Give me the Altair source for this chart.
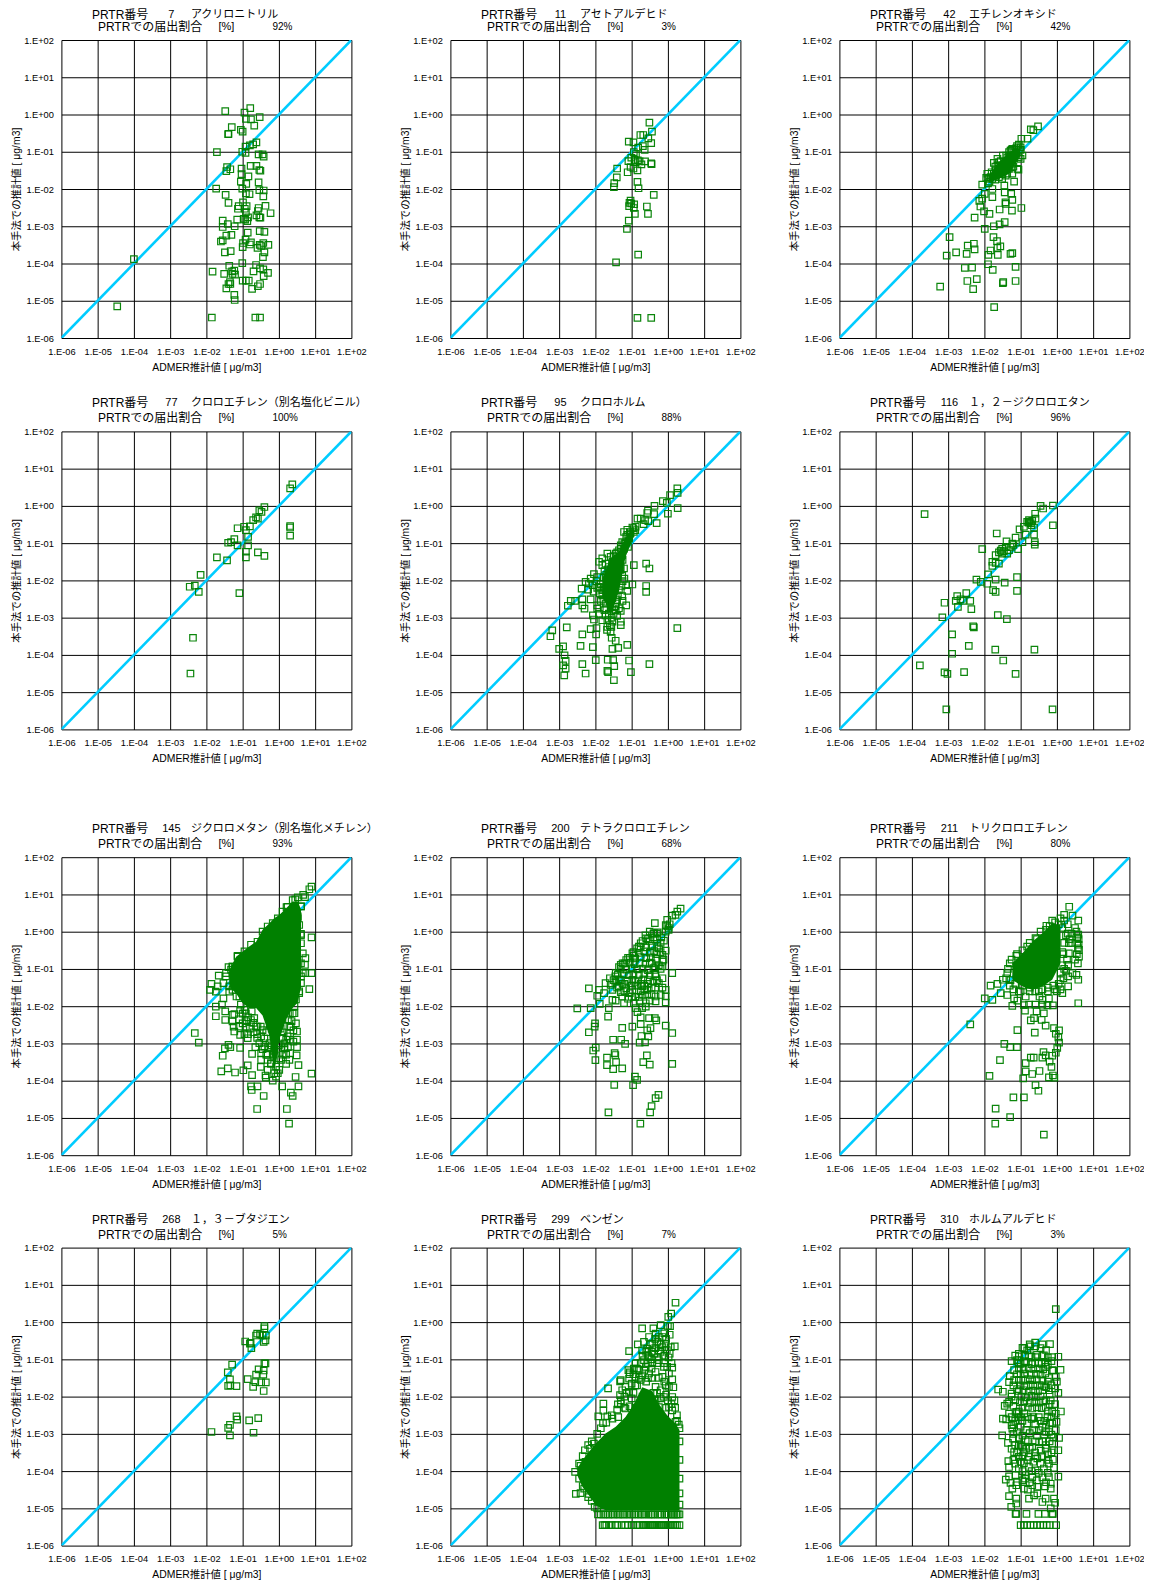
import altair as alt
import pandas as pd

NUMBERS = ["7", "11", "42", "77", "95", "116", "145", "200", "211", "268", "299", "310"]
NAMES = ["アクリロニトリル", "アセトアルデヒド", "エチレンオキシド", "クロロエチレン（別名塩化ビニル）",
         "クロロホルム", "１，２－ジクロロエタン", "ジクロロメタン（別名塩化メチレン）", "テトラクロロエチレン",
         "トリクロロエチレン", "１，３－ブタジエン", "ベンゼン", "ホルムアルデヒド"]
PERCENTS = ["92%", "3%", "42%", "100%", "88%", "96%", "93%", "68%", "80%", "5%", "7%", "3%"]
TICKS = [1e-6, 1e-5, 1e-4, 1e-3, 1e-2, 1e-1, 1e0, 1e1, 1e2]
DIAGONAL = [1e-6, 1e2]

# all points are (log10 ADMER, log10 this-method)
P7 = [(-1.48,.09),(-.95,.05),(-.79,.17),(-.91,-.12),(-.77,-.13),(-.53,-.07),(-.68,-.3),(-1.3,-.34),(-1.39,-.52),(-1.4,-.53),(-1.05,-.41),(-1,-.46),(-.62,-.75),(-.71,-.8),(-.8,-.83),(-.92,-.86),(-1.71,-1.01),(-1.01,-1),(-.92,-1.03),(-.56,-1.07),(-.45,-1.07),(-.42,-1.13),(-.62,-1.38),(-.78,-1.38),(-1.03,-1.45),(-1.43,-1.41),(-1.34,-1.47),(-1.45,-1.52),(-.54,-1.49),(-.51,-1.51),(-1.03,-1.6),(-.84,-1.66),(-1.05,-1.8),(-.9,-1.86),(-.56,-1.82),(-1.73,-1.99),(-1.01,-1.99),(-.54,-2.03),(-.42,-2.04),(-1.47,-2.16),(-.91,-2.12),(-.81,-2.14),(-.43,-2.2),(-1.39,-2.37),(-.99,-2.36),(-1.11,-2.46),(-1.13,-2.53),(-.89,-2.46),(-.94,-2.53),(-.91,-2.62),(-.37,-2.45),(-.56,-2.51),(-.58,-2.59),(-.23,-2.65),(-1.15,-2.82),(-.97,-2.8),(-.85,-2.76),(-.93,-2.82),(-.87,-2.86),(-.62,-2.71),(-.54,-2.76),(-.51,-2.77),(-1.55,-2.85),(-1.41,-2.94),(-1.55,-3.02),(-1.22,-3),(-.86,-3.17),(-.53,-3.13),(-.4,-3.15),(-1.31,-3.23),(-1.45,-3.25),(-1.55,-3.38),(-1.6,-3.41),(-.92,-3.36),(-.99,-3.45),(-.77,-3.43),(-.8,-3.49),(-1,-3.56),(-.43,-3.45),(-.29,-3.5),(-.53,-3.5),(-.59,-3.58),(-.49,-3.53),(-1.49,-3.7),(-1.33,-3.67),(-.4,-3.7),(-.44,-3.83),(-1.01,-3.99),(-1.37,-4.06),(-.63,-4.04),(-.52,-4.13),(-.43,-4.16),(-.3,-4.25),(-.7,-4.21),(-.42,-4.34),(-1.83,-4.22),(-1.51,-4.28),(-1.29,-4.21),(-1.23,-4.19),(-1.28,-4.28),(-1.21,-4.3),(-1,-4.46),(-.91,-4.46),(-.83,-4.46),(-1.35,-4.5),(-1.39,-4.55),(-1.34,-4.55),(-1.45,-4.67),(-.52,-4.55),(-.58,-4.61),(-.74,-4.68),(-1.23,-4.84),(-1.22,-4.98),(-4.46,-5.15),(-4,-3.88),(-1.85,-5.45),(-.65,-5.45),(-.52,-5.45)]
P11 = [(-.51,-.22),(-.44,-.46),(-.76,-.55),(-.68,-.55),(-.54,-.64),(-1.08,-.73),(-.95,-.75),(-.46,-.77),(-.69,-.85),(-.82,-.89),(-.64,-.95),(-.94,-1.01),(-.88,-1.06),(-1.01,-1.16),(-1.09,-1.25),(-.92,-1.22),(-.83,-1.23),(-.78,-1.26),(-.63,-1.26),(-.89,-1.28),(-.73,-1.34),(-.46,-1.31),(-.45,-1.33),(-1.03,-1.41),(-.95,-1.45),(-.84,-1.5),(-1.4,-1.45),(-1.11,-1.55),(-1.41,-1.69),(-1.48,-1.84),(-1.49,-1.95),(-.84,-1.81),(-.81,-1.98),(-.39,-2.16),(-1.03,-2.31),(-1.06,-2.37),(-1.01,-2.39),(-.93,-2.41),(-1.07,-2.46),(-.94,-2.51),(-.58,-2.47),(-.55,-2.67),(-.91,-2.67),(-1.08,-2.85),(-1.13,-3.07),(-.82,-3.76),(-1.43,-3.97),(-.84,-5.46),(-.46,-5.46)]
P42 = [(-.52,-.32),(-.72,-.4),(-.65,-.42),(-.98,-.65),(-.81,-.65),(-1.92,-1.59),(-1.83,-1.68),(-1.86,-1.8),(-1.74,-1.3),(-1.64,-1.19),(-1.69,-1.5),(-1.6,-1.46),(-1.55,-1.55),(-1.49,-1.1),(-1.41,-1.28),(-1.32,-1.01),(-1.28,-1.1),(-1.23,-.92),(-1.18,-1.01),(-1.12,-.9),(-1.05,-.94),(-1,-.88),(-.95,-1.1),(-1,-1.19),(-1.23,-1.19),(-1.41,-1.37),(-1.32,-1.46),(-1.51,-1.73),(-1.41,-1.64),(-1.23,-1.59),(-1.09,-1.46),(-1.78,-1.73),(-1.69,-1.64),(-1.6,-1.68),(-1.51,-1.37),(-1.6,-1.28),(-1.37,-1.15),(-1.14,-1.1),(-1.3,-1.23),(-1.46,-1.5),(-1.64,-1.37),(-1.74,-1.59),(-1.89,-1.73),(-1.23,-1.32),(-1.05,-.81),(-1.12,-1.03),(-1.18,-1.15),(-1.28,-.97),(-1.37,-1.59),(-2.06,-1.88),(-1.78,-2),(-1.99,-2.13),(-2.06,-2.26),(-2.14,-2.32),(-2.11,-2.47),(-2.01,-2.6),(-1.86,-2.67),(-1.78,-2.22),(-1.45,-1.91),(-1.44,-2.09),(-1.26,-2.13),(-1.23,-2.29),(-1.41,-2.4),(-1.42,-2.36),(-1.58,-2.55),(-1.24,-2.58),(-.98,-2.51),(-1.18,-1.8),(-1.06,-1.48),(-2.27,-2.77),(-1.99,-3.07),(-1.74,-3),(-1.58,-2.95),(-1.44,-2.89),(-2.96,-3.29),(-2.29,-3.47),(-2.46,-3.52),(-2.27,-3.62),(-2.49,-3.74),(-2.78,-3.7),(-3.04,-3.79),(-1.75,-3.29),(-1.65,-3.4),(-1.56,-3.54),(-1.64,-3.58),(-1.83,-3.65),(-1.89,-3.77),(-1.63,-3.77),(-1.28,-3.74),(-1.23,-3.72),(-1.9,-4.02),(-2.54,-4.12),(-2.34,-4.11),(-1.77,-4.17),(-1.14,-4.09),(-2.47,-4.47),(-2.21,-4.42),(-2.31,-4.69),(-3.22,-4.62),(-1.48,-4.5),(-1.49,-4.53),(-1.14,-4.47),(-1.73,-5.17),(-1.95,-1.7),(-1.8,-1.55),(-1.7,-1.4),(-1.55,-1.25),(-1.4,-1.1),(-1.25,-.95),(-1.1,-.85),(-1,-.95),(-1.05,-1.15),(-1.2,-1.4),(-1.35,-1.45),(-1.5,-1.6),(-1.7,-1.75),(-1.9,-1.85)]
P77 = [(.37,.58),(.31,.47),(-.4,-.03),(-.54,-.12),(-.48,-.16),(-.71,-.38),(-.63,-.31),(-.58,-.34),(-.8,-.55),(-.96,-.56),(-1.14,-.6),(-.91,-.65),(.31,-.54),(.31,-.58),(.31,-.8),(-.85,-.83),(-1.23,-.89),(-1.4,-.99),(-1.32,-.97),(-1.14,-1.06),(-.85,-1.06),(-.91,-1.23),(-.58,-1.25),(-.4,-1.34),(-.91,-1.38),(-1.71,-1.38),(-1.43,-1.46),(-2.16,-1.85),(-2.32,-2.14),(-2.46,-2.17),(-2.21,-2.31),(-1.09,-2.34),(-2.37,-3.54),(-2.44,-4.5)]
P95 = [(.26,.47),(.27,.35),(.06,.29),(-.14,.13),(-.03,.08),(.27,-.06),(0,-.21),(-.37,0),(-.55,-.13),(-.57,-.19),(-.38,-.22),(-.84,-.34),(-.75,-.34),(-.63,-.38),(-.31,-.46),(-.54,-.41),(-.67,-.49),(-.89,-.56),(-.98,-.58),(-1.21,-.7),(-1.12,-.64),(-.94,-.7),(-1.03,-.74),(-1.15,-.83),(-1.07,-.88),(-1.26,-.97),(-1.17,-1.01),(-1.3,-1.06),(-1.21,-1.15),(-1.35,-1.19),(-1.26,-1.32),(-1.44,-1.28),(-1.67,-1.28),(-1.58,-1.37),(-1.81,-1.41),(-1.9,-1.5),(-1.72,-1.55),(-1.53,-1.5),(-1.35,-1.46),(-1.81,-1.59),(-1.63,-1.64),(-1.44,-1.59),(-1.21,-1.68),(-.94,-1.59),(-.6,-1.55),(-.51,-1.68),(-2.04,-1.83),(-1.95,-1.91),(-2.27,-2.04),(-2.13,-1.95),(-2.18,-2.09),(-2.38,-2.22),(-2.2,-2.25),(-2.07,-2.13),(-1.9,-2.17),(-1.72,-1.91),(-1.53,-1.86),(-1.26,-1.88),(-1.44,-2),(-1.63,-2.09),(-1.81,-2.26),(-1.63,-2.26),(-1.49,-2.17),(-1.35,-2.26),(-1.15,-2.13),(-.98,-2.11),(-.6,-2.15),(-.6,-2.31),(-1.12,-2.28),(-1.26,-2.42),(-1.67,-2.44),(-1.81,-2.4),(-1.53,-2.48),(-1.4,-2.53),(-2.13,-2.51),(-2.36,-2.51),(-2.68,-2.55),(-2.56,-2.55),(-2.76,-2.68),(-2.36,-2.67),(-2.3,-2.76),(-1.95,-2.67),(-1.95,-2.76),(-1.72,-2.62),(-1.58,-2.71),(-1.44,-2.62),(-1.3,-2.82),(-1.15,-2.67),(-2.07,-2.94),(-2.04,-3.05),(-1.81,-3.07),(-1.72,-2.94),(-1.63,-2.89),(-1.44,-2.8),(-1.67,-3.07),(-1.53,-3.11),(-1.3,-3.11),(-1.3,-3.2),(-2.13,-3.31),(-1.97,-3.28),(-1.98,-3.45),(-1.67,-3.25),(-1.58,-3.38),(-1.55,-3.54),(-1.44,-3.62),(-1.53,-3.84),(-1.37,-3.81),(-1.12,-3.73),(-2.79,-3.26),(-3.19,-3.34),(-3.24,-3.5),(-2.36,-3.45),(-2.41,-3.76),(-2.07,-3.79),(-2.89,-3.77),(-3,-3.84),(-2.85,-4.01),(-2.82,-4.16),(-2.89,-4.28),(-2.82,-4.37),(-2.86,-4.55),(-2.36,-4.25),(-2.27,-4.5),(-1.99,-4.14),(-1.66,-4.13),(-1.51,-4.14),(-1.07,-4.15),(-1.67,-4.43),(-1.65,-4.46),(-1.48,-4.3),(-1.02,-4.46),(-.51,-4.25),(-1.49,-4.68),(.26,-3.28),(-1.6,-3.2),(-1.75,-2.8),(-1.9,-2.9),(-1.85,-2.55),(-1.68,-3.33),(-1.56,-3.25),(-1.5,-2.9),(-1.4,-2.95),(-1.35,-2.75),(-1.25,-2.55),(-2.05,-2.3),(-1.97,-2.02),(-1.2,-1.95),(-1.32,-1.72),(-1.25,-2.02),(-1.95,-2.2),(-1.85,-2.1),(-1.75,-1.75),(-1.65,-1.7),(-1.5,-1.35),(-1.4,-1.25),(-1.3,-1.15),(-1.2,-1),(-1.12,-.78),(-1.05,-.7),(-.95,-.6),(-.9,-.65),(-1.1,-1.1),(-1.25,-1.45),(-1.3,-1.65),(-1.28,-2.15),(-1.38,-2.4),(-1.45,-2.7),(-1.55,-3),(-1.7,-2.75),(-1.78,-2.5),(-1.88,-2.35),(-1.7,-1.85),(-1.75,-2.2)]
P116 = [(-3.65,-.22),(-.11,.01),(-.45,0),(-.38,-.07),(-.6,-.21),(-.59,-.34),(-.11,-.52),(-.77,-.38),(-.82,-.43),(-.72,-.47),(-.91,-.56),(-1.03,-.63),(-.63,-.58),(-.63,-.77),(-.86,-.77),(-1.66,-.74),(-1.14,-.85),(-1.39,-.95),(-.95,-.97),(-.61,-.97),(-.61,-1.04),(-1.23,-1.01),(-1.07,-1.16),(-2.06,-1.16),(-1.51,-1.15),(-1.41,-1.1),(-1.6,-1.25),(-1.51,-1.28),(-1.37,-1.28),(-1.69,-1.32),(-1.32,-1.19),(-1.6,-1.55),(-1.78,-1.5),(-1.69,-1.53),(-1.78,-1.61),(-1.9,-1.84),(-2.22,-1.98),(-2.1,-2.04),(-1.92,-2.09),(-1.69,-1.98),(-1.44,-2.06),(-1.1,-1.91),(-1.1,-2.28),(-1.76,-2.26),(-1.69,-2.31),(-2.5,-2.34),(-2.75,-2.42),(-2.79,-2.55),(-2.66,-2.51),(-2.59,-2.55),(-2.39,-2.55),(-3.1,-2.6),(-2.73,-2.71),(-2.36,-2.77),(-3.16,-2.99),(-1.63,-2.93),(-1.38,-3.04),(-2.31,-3.23),(-2.29,-3.26),(-2.89,-3.45),(-2.43,-3.76),(-2.89,-3.97),(-1.7,-3.86),(-.62,-3.86),(-1.48,-4.15),(-3.78,-4.28),(-3.1,-4.47),(-3.02,-4.51),(-2.56,-4.46),(-1.14,-4.51),(-3.05,-5.46),(-.12,-5.46),(-1.55,-1.2),(-1.46,-1.22),(-1.28,-1.1),(-1.2,-1.05),(-.78,-.45),(-.75,-.42),(-.7,-.52),(-.68,-.4)]
P145 = [(.9,1.21),(.84,1.14),(.67,.99),(.72,.93),(.61,.68),(.45,.87),(.21,.66),(.52,.36),(.61,-.06),(.9,-.15),(.73,-.71),(.72,-.89),(.73,-1.11),(.9,-1.11),(.84,-1.54),(.61,-1.2),(.56,-1.65),(-1.14,-.65),(-1.39,-.95),(-1.66,-1.18),(-1.86,-1.4),(-1.9,-1.56),(-1.74,-1.61),(-1.69,-1.47),(-1.46,-1.11),(-1.28,-.94),(-1.37,-1.47),(-1.28,-1.56),(-1.53,-1.79),(-1.74,-2.01),(-1.57,-1.96),(-1.74,-2.27),(-1.48,-2.14),(-1.48,-2.37),(-1.28,-2.23),(-1.23,-2.21),(-1.28,-2.41),(-1.25,-2.55),(-1.23,-2.68),(-1.07,-2.1),(-.95,-2.1),(-1.09,-1.74),(-1.07,-2.77),(-1,-2.46),(-.91,-2.55),(-.86,-2.86),(-.75,-2.14),(-.68,-2.32),(-.59,-2.55),(-.45,-2.64),(-.54,-2.99),(-.4,-2.86),(-.26,-2.99),(.1,-2.37),(.29,-2.55),(.47,-2.46),(.43,-2.19),(.5,-2.68),(.5,-2.9),(.5,-3.1),(.31,-3.26),(.49,-3.32),(.31,-2.72),(.2,-2.9),(.06,-3.17),(-.13,-3.2),(-.22,-3.55),(-2.32,-2.72),(-2.21,-2.98),(-1.49,-3.13),(-1.39,-3.04),(-1.34,-3.1),(-1.07,-3.12),(-1.55,-3.33),(-.74,-3.28),(-.49,-3.26),(-.49,-3.44),(-.31,-3.44),(-.5,-3.63),(-.86,-3.59),(-1.41,-3.67),(-1.59,-3.75),(-1.21,-3.78),(-.98,-3.72),(-.74,-3.85),(-.37,-3.86),(-.36,-3.92),(-.17,-4),(-.08,-3.89),(.01,-3.71),(.29,-3.44),(.54,-3.58),(.46,-3.9),(.9,-3.81),(.09,-4.15),(.54,-4.15),(-.77,-4.15),(-.75,-4.25),(-.59,-4.15),(.33,-4.32),(.38,-4.41),(-.42,-4.41),(-.6,-4.76),(.22,-4.76),(.28,-5.15),(-.31,-3.71),(-.08,-3.62),(.01,-3.4),(.2,-3.3),(.1,-2.7),(-.1,-2.9),(-.2,-2.6),(.3,-2.2),(-.3,-3.1),(.15,-3.1),(-.7,-2.7),(-.6,-2.85),(-.85,-2.3),(-.95,-2.75),(-1.28,-.94),(-1.14,-.67),(-.95,-.53),(-.77,-.35),(-.59,-.27),(-.45,0),(-.31,.14),(-.17,.23),(-.03,.36),(.1,.54),(.24,.67),(.38,.85),(.52,.92),(.61,.68),(.52,.41),(.56,.18),(.61,-.09),(.61,-.31),(.66,-.58),(.61,-.85),(.66,-1.11),(.61,-1.38),(.56,-1.6),(.47,-1.82),(.43,-2),(.38,-2.19),(-1.32,-1.02),(-1.46,-1.2),(-1.53,-1.38),(-1.37,-1.61),(-1.17,-1.74),(-1.05,-1.96),(-.91,-2.19),(-.77,-2.37),(-.63,-2.55),(-.49,-2.81),(-.4,-3.08),(-.31,-3.31),(-.22,-3.53),(-.13,-3.8),(-.03,-3.8),(.06,-3.44),(.15,-3.13),(.24,-2.81),(.33,-2.55),(-1.1,-2.35),(-1,-2.2),(-.9,-2.4),(-.8,-2.6),(-.7,-2.45),(-.6,-2.75),(-.5,-2.55),(-.35,-2.7),(-.25,-2.5),(-.15,-2.8),(.05,-2.6),(.1,-2.85),(.25,-2.35),(.35,-2.4),(.4,-2.65),(.3,-2.9),(-.2,-3.05),(0,-3.05),(.15,-3),(.25,-3.1),(.4,-2.95),(-.15,-3.3),(.1,-3.3),(.2,-3.55),(-.35,-3.3),(-.45,-3.15),(-.65,-3.1),(-.85,-2.75),(-1.1,-2.55)]
P200 = [(.35,.62),(.26,.54),(.21,.45),(.12,.43),(-.02,.32),(-.06,.18),(-.06,0),(-.36,.23),(-.11,-.24),(-.38,-.04),(-.06,-.51),(-.15,-.62),(-.15,-.8),(-.15,-.93),(.12,-1.11),(-.75,-.31),(-.8,-.4),(-.98,-.58),(-1.15,-.76),(-1.3,-.89),(-1.44,-1.11),(-1.72,-1.38),(-1.9,-1.56),(-2.18,-1.52),(-1.95,-1.72),(-1.76,-1.65),(-1.58,-1.43),(-1.53,-1.56),(-1.35,-1.47),(-1.15,-1.52),(-.98,-1.56),(-.71,-1.47),(-.34,-1.2),(-.25,-1.38),(-.06,-1.56),(-.06,-1.74),(-.06,-1.9),(-.34,-1.74),(-.34,-1.87),(-.57,-1.56),(-.57,-1.69),(-.61,-1.92),(-.61,-2.01),(-.71,-2.05),(-.94,-1.92),(-.89,-2.05),(-1.21,-1.92),(-1.26,-1.74),(-1.44,-1.85),(-1.53,-1.83),(-1.63,-2.05),(-1.88,-1.94),(-2.13,-2.05),(-2.5,-2.06),(-1.65,-2.28),(-.84,-2.16),(-.75,-2.3),(-.52,-2.32),(-.36,-2.32),(-.32,-2.38),(-2.01,-2.46),(-2.02,-2.55),(-2.18,-2.7),(-1.26,-2.58),(-.98,-2.55),(-.75,-2.48),(-.48,-2.59),(-.57,-2.65),(-.06,-2.52),(.12,-2.72),(-.73,-2.8),(-.54,-2.81),(-1.51,-2.9),(-1.29,-2.9),(-1.18,-3.01),(-.78,-2.98),(-.63,-2.97),(-1.99,-3.11),(-2.06,-3.19),(-1.47,-3.26),(-1.45,-3.31),(-1.68,-3.38),(-2,-3.45),(-1.43,-3.5),(-1.68,-3.58),(-1.51,-3.69),(-1.26,-3.67),(-.58,-3.32),(-.68,-3.5),(-.5,-3.57),(.12,-3.55),(-.91,-3.89),(-.85,-3.98),(-.96,-4.12),(-1.48,-4.11),(-.26,-4.38),(-.34,-4.47),(-.45,-4.68),(-.49,-4.85),(-1.64,-4.85),(-.76,-5.15),(-.62,-.1),(-.5,0),(-.4,-.15),(-.3,-.05),(-.55,-.2),(-.2,-.3),(-.25,-.45),(-.3,-.6),(-.45,-.85),(-.35,-.95),(-.55,-1.3),(-.2,-1),(-1.6,-1.25),(-1.45,-1.35),(-1.25,-1.4),(-.85,-1.45),(-.65,-1.55),(-.45,-1.5),(-.75,-1.6),(-1.05,-1.65),(-1.3,-1.62),(-.9,-1.75),(-.7,-1.7),(-.45,-1.7),(-1.1,-1.8),(-.78,-1.85),(-1.35,-.95),(-1.25,-.85),(-1.1,-.7),(-.95,-.65),(-.85,-.45),(-.7,-.25),(-.6,-.18),(-.5,-.25),(-.4,-.05),(-.3,-.2),(-.65,-1.45),(-.55,-1.4),(-.4,-1.35),(-.3,-1.3),(-1.45,-1.2),(-1.3,-1.3),(-1.2,-1.4),(-1,-1.45),(-.9,-1.35),(-.75,-1.4),(-.25,-.9),(-.15,-1.25),(-.2,-.55),(-.12,-.75),(.02,.1),(.05,.2),(-.02,.15),(.02,.05),(-.28,-.02),(-.18,-.15),(-1.4,-1.5),(-1.2,-1.6),(-1,-1.75),(-.8,-1.75),(-.5,-1.85),(-.35,-1.5),(-.15,-1.5),(-.2,-1.7),(-.75,-.4),(-.6,-.42),(-.45,-.38),(-.3,-.41),(-.95,-.55),(-.8,-.57),(-.65,-.53),(-.5,-.56),(-.38,-.52),(-1.05,-.7),(-.9,-.72),(-.75,-.68),(-.6,-.71),(-.47,-.69),(-.33,-.73),(-1.2,-.85),(-1.05,-.83),(-.92,-.87),(-.78,-.84),(-.62,-.86),(-.5,-.83),(-1.3,-1),(-1.15,-1.02),(-1,-.98),(-.85,-1.01),(-.7,-.99),(-.55,-1.03),(-.4,-.98),(-1.38,-1.15),(-1.22,-1.13),(-1.08,-1.17),(-.95,-1.14),(-.8,-1.16),(-.65,-1.13),(-.5,-1.17),(-.35,-1.14),(-1.5,-1.3),(-1.35,-1.28),(-1.12,-1.32),(-.98,-1.29),(-.82,-1.31),(-.68,-1.28)]
P211 = [(.34,.67),(.43,.43),(.59,.3),(.2,.45),(.1,.36),(-.13,.3),(-.29,.16),(.54,0),(.59,-.08),(.56,-.31),(.61,-.49),(.61,-.67),(.58,-.85),(.54,-1.16),(.59,-1.29),(.33,-.31),(.33,-.58),(.31,-.89),(.31,-1.2),(.31,-1.47),(.15,-1.65),(.43,-1.11),(.59,-1.92),(-.59,-.17),(-.82,-.4),(-1.12,-.65),(-1.37,-1.11),(-1.49,-1.29),(-1.64,-1.4),(-1.83,-1.45),(-1.55,-1.65),(-1.37,-1.7),(-1.18,-1.79),(-1.09,-1.85),(-.86,-1.74),(-1.23,-1.99),(-.91,-1.97),(-.77,-1.96),(-.59,-1.96),(-.4,-1.96),(-.26,-1.98),(-.11,-1.98),(-1.99,-1.79),(-1.78,-1.83),(-.48,-1.74),(-.22,-1.79),(-.88,-2.12),(-.56,-2.14),(-.36,-2.19),(-.4,-1.83),(-.72,-2.38),(-.63,-2.32),(-.42,-2.37),(-.31,-2.52),(-1.09,-2.64),(-.61,-2.71),(-.08,-2.59),(.06,-2.65),(-.03,-2.74),(.04,-2.84),(.06,-2.98),(.01,-3.12),(-2.39,-2.49),(-1.45,-3.01),(-1.29,-3.1),(-1.1,-3.1),(-.72,-3.38),(-.64,-3.38),(-.4,-3.38),(-.37,-3.23),(-.31,-3.32),(-.13,-3.33),(-.03,-3.25),(-1.57,-3.45),(-.86,-3.53),(-.2,-3.49),(-.15,-3.63),(-.86,-3.75),(-.48,-3.74),(-.68,-3.82),(-.93,-3.94),(-1.86,-3.87),(-.22,-3.91),(-.11,-3.86),(-.07,-3.92),(-.59,-4.12),(-.51,-4.27),(-1.2,-4.45),(-.91,-4.45),(-1.69,-4.75),(-1.29,-4.98),(-1.7,-5.15),(-.36,-5.45),(.4,-.05),(.42,-.3),(.25,-.1),(.15,-.55),(.2,-1),(.1,-1.3),(-.05,-1.55),(-.25,-1.6),(-.5,-1.6),(-.75,-1.6),(-1.05,-1.6),(-1.3,-1.45),(-1.25,-.75),(-1.1,-.6),(-.95,-.5),(-.75,-.3),(-.55,-.2),(-.45,0),(-.3,.05),(-.2,.15),(-.05,.25),(.05,.2),(.2,.3),(.3,.2),(.15,.1),(.3,-.05),(.35,-.2),(.2,-.3),(.18,-.6),(.28,-.75),(.15,-.9),(.25,-1.05),(.1,-1.1),(.18,-1.25),(.05,-1.4),(-.1,-1.45),(-.25,-1.5),(-.4,-1.55),(-.6,-1.6),(-.75,-1.5),(-.95,-1.45),(-1.15,-1.4),(-1.28,-1.3),(-1.4,-1.25),(-1.35,-1),(-1.3,-.85),(-1.2,-1.55),(-1,-1.6),(0,-1.6),(.1,-1.55),(.55,-.6),(.58,-.45),(.6,-.2),(.56,-.15),(.6,-.35),(.5,-.75),(.5,.1)]
P268 = [(-.4,-.11),(-.4,-.17),(-.6,-.31),(-.52,-.33),(-.63,-.36),(-.45,-.36),(-.36,-.36),(-.37,-.49),(-.42,-.53),(-.93,-.52),(-.8,-.58),(-.78,-.56),(-.76,-.7),(-.4,-1.11),(-.37,-1.11),(-1.29,-1.14),(-.56,-1.27),(-1.41,-1.35),(-.42,-1.3),(-.43,-1.41),(-.63,-1.41),(-1.35,-1.54),(-.86,-1.53),(-.65,-1.61),(-.49,-1.62),(-.36,-1.62),(-1.4,-1.71),(-1.34,-1.7),(-1.17,-1.72),(-.71,-1.74),(-.42,-1.85),(-1.17,-2.53),(-1.15,-2.62),(-.57,-2.58),(-.82,-2.64),(-1.35,-2.76),(-1.4,-2.84),(-1.86,-2.95),(-.7,-2.97),(-1.35,-3.04)]
P299 = [(.21,.52),(.09,.23),(.01,.14),(.06,-.11),(-.71,-.17),(-.4,-.17),(-.2,-.08),(.05,-.34),(.19,-.65),(-.83,-.6),(-1.07,-.78),(-.66,-.53),(-.52,-.4),(-.34,-.31),(-.15,-.4),(-.06,-.58),(.08,-.67),(-.71,-.76),(-.57,-.71),(-.43,-.58),(-.29,-.53),(-.15,-.67),(-.38,-.85),(-.25,-.76),(-.52,-.94),(-.66,-1.02),(-.89,-1.11),(-1.09,-1.29),(-1.06,-1.4),(-.94,-1.25),(-.8,-1.29),(-.61,-1.2),(-.43,-1.11),(-.25,-1.02),(-.02,-1.2),(.12,-1.22),(.12,-1.54),(.03,-1.38),(-.11,-1.2),(-1.32,-1.59),(-1.3,-1.56),(-1.65,-1.78),(-1.07,-1.52),(-.89,-1.47),(-.71,-1.43),(-.52,-1.38),(-.34,-1.34),(-.15,-1.47),(.03,-1.74),(.12,-2.01),(-.06,-1.7),(-1.32,-1.96),(-1.26,-1.83),(-1.17,-1.74),(-1.07,-1.87),(-1.3,-2.19),(-1.38,-2.21),(-1.17,-2.32),(-1.06,-2.26),(-1.78,-2.19),(-1.78,-2.38),(-1.92,-2.53),(-1.67,-2.53),(-1.79,-2.71),(-1.53,-2.59),(-1.37,-2.55),(-.34,-1.74),(-.2,-1.83),(-.11,-2.01),(-.34,-2.1),(-.25,-2.28),(.21,-2.68),(.03,-2.28),(.12,-2.37),(-2.29,-3.44),(-2.15,-3.4),(-2.04,-3.26),(-2.27,-3.75),(-2.41,-3.86),(-2.56,-4.02),(-2.54,-4.61),(-2.41,-4.59),(-2.31,-4.47),(-2.18,-4.61),(-2.02,-4.96),(-1.81,-4.92),(-.9,-1.7),(-.8,-1.5),(-.6,-1.6),(-.45,-1.5),(-.3,-1.9),(-.55,-.9),(-.45,-1),(-.3,-.95),(-.2,-.6),(-.1,-.9),(.02,-.95),(-1.3,-2.1),(-1.2,-2),(-1.15,-1.9),(-1,-1.65),(-1.05,-1.35),(-.95,-1.4),(-.85,-1.25),(-.75,-1.1),(-.7,-.9),(-.6,-.8),(-.5,-.6),(-.35,-.45),(-.25,-.4),(-.1,-.3),(-.05,-.45),(0,-.1),(-.03,-.75),(.05,-.85),(.1,-1.1),(.15,-1.75),(.18,-2.1),(.2,-2.3),(.25,-2.5),(-.95,-1.9),(-.85,-1.7),(-.75,-1.55),(-.65,-1.3),(-.55,-1.1),(-.45,-.8),(-.35,-.7),(-.2,-.8),(-.1,-1.1),(-.3,-1.1),(-.45,-1.25),(-.55,-1.5),(-.25,-1.5),(-.1,-1.6),(-.4,-1.9),(-.2,-2.05),(-.05,-1.95),(0,-2.1),(-.45,-2.1),(-1,-2.05),(-1.2,-2.3),(-.9,-2.3),(-.7,-2),(-.05,-2.3),(.1,-2.2),(-1.4,-2.35),(-1.55,-2.5),(-1.7,-2.7),(-1.85,-2.85),(-1.95,-3),(-2.1,-3.2),(-2.2,-3.3),(-2.35,-3.6),(-2.45,-3.8),(-2.45,-4.2),(-2.35,-4.4),(-2.2,-4.7),(-2.1,-4.8),(-1.95,-5),(-2.3,-3.9),(.32,-2.85),(.32,-3.2),(.32,-3.7),(.32,-4.2),(.32,-4.6),(.32,-4.9),(.25,-2.65),(.3,-2.75)]
ROW_299_A = [-1.8,-1.75,-1.7,-1.62,-1.55,-1.45,-1.4,-1.28,-1.18,-1.1,-1,-.95,-.85,-.78,-.7,-.65,-.6,-.55,-.5,-.45,-.4,-.35,-.3,-.25,-.2,-.15,-.1,-.05,0,.05,.1,.15,.2,.25,.32]
ROW_299_B = [-1.93,-1.85,-1.78,-1.72,-1.65,-1.6,-1.52,-1.47,-1.38,-1.33,-1.25,-1.2,-1.12,-1.05,-.98,-.9,-.82,-.75,-.68,-.62,-.53,-.47,-.42,-.37,-.28,-.22,-.17,-.08,-.03,.02,.08,.13,.18,.23,.27,.32]
P310 = [(-.03,.35),(-.95,-.69),(-.74,-.65),(-.6,-.65),(-.4,-.6),(-.19,-.59),(-.82,-.76),(.04,-.93),(-.13,-.94),(-.36,-.89),(-.59,-.94),(-.77,-.89),(-1.1,-1.02),(-.9,-1.05),(-.5,-1.1),(-.25,-1.15),(-1.06,-1.11),(-1.18,-1.29),(-1.18,-1.56),(-1.32,-1.61),(-1.62,-1.81),(-1.49,-1.87),(-1.32,-2.14),(-1.25,-1.92),(-.03,-1.47),(-.05,-1.78),(.04,-1.9),(.1,-1.28),(-.13,-1.29),(-.22,-1.83),(-.17,-2.1),(-1.44,-2.25),(-1.37,-2.19),(-1.32,-2.46),(-1.12,-2.41),(-.31,-2.28),(-.13,-2.41),(.11,-2.4),(-.03,-2.46),(-.26,-2.54),(-1.49,-2.59),(-1.4,-2.61),(-1.25,-2.77),(-1.23,-2.86),(-1,-2.81),(-.82,-2.72),(-.63,-2.9),(-.4,-2.81),(-.22,-2.95),(-.01,-2.68),(-.13,-2.72),(-.03,-2.9),(-1.51,-3.04),(-1.35,-3.24),(-1.21,-3.13),(-1.05,-3.31),(-.86,-3.17),(-.68,-3.35),(-.49,-3.22),(-.31,-3.4),(-.13,-3.26),(.06,-3.11),(.04,-3.44),(-.08,-3.44),(-.91,-3.49),(-1.34,-3.73),(-1.32,-3.89),(-1.05,-3.93),(-.91,-3.79),(-.77,-3.89),(-.59,-3.98),(-.36,-3.93),(-.22,-3.8),(-.08,-3.91),(-.11,-3.69),(-.54,-3.66),(-.77,-3.62),(-1.18,-3.49),(-1.05,-3.62),(-1.41,-4.23),(-1.28,-4.32),(-1.12,-4.38),(-1.23,-4.47),(-.91,-4.47),(-.88,-4.2),(-.68,-4.38),(-.54,-4.42),(-.4,-4.17),(-.33,-4.41),(-.17,-4.34),(-.17,-4.47),(.04,-4.15),(-1.32,-4.14),(-1.14,-4.11),(-.86,-4.11),(-.68,-4.16),(-.22,-4.16),(-1.26,-4.96),(-1.12,-4.74),(-1.12,-4.87),(-1.32,-4.67),(-.77,-4.74),(-.63,-4.65),(-.54,-4.6),(-.4,-4.83),(-.31,-4.74),(-.08,-4.74),(-.05,-4.85),(-.17,-5),(-1.12,-5.15),(-1.14,-5.15),(-.84,-5.15),(-.51,-5.15),(-.33,-5.15),(-.13,-5.15),(-.11,-5.15),(-1,-5.45),(-.91,-5.45),(-.82,-5.45),(-.73,-5.45),(-.64,-5.45),(-.55,-5.45),(-.46,-5.45),(-.37,-5.45),(-.28,-5.45),(-.2,-5.45),(-.02,-5.45),(-1.1,-2.95),(-.95,-3.05),(-.75,-2.98),(-.55,-3.05),(-.35,-3.02),(-.15,-3.02),(-1.15,-3.3),(-.95,-3.35),(-.75,-3.4),(-.6,-3.5),(-.45,-3.45),(-.25,-3.55),(-1.15,-3.8),(-1,-3.75),(-.65,-3.75),(-.45,-3.8),(-.95,-4),(-.7,-4),(-.5,-4.05),(-.25,-4.05),(-1,-2.55),(-.7,-2.6),(-.5,-2.55),(-.2,-2.7),(-.9,-2.45),(-1.15,-2.65),(-.35,-2.65),(-.6,-2.75),(-1.05,-2.4),(-.2,-2.2),(-.22,-1.5),(-.3,-1.2),(-.15,-1.7),(-1.1,-1.4),(-1.1,-1.8),(-1.15,-2.1),(-1.25,-1.05),(-1.15,-.9),(-1.05,-.85),(-.9,-.7),(-.75,-.6),(-.6,-.55),(-.45,-.7),(-.3,-.75),(-.25,-.95),(-.15,-1.05),(-.1,-1.3),(-.25,-1.6),(-.2,-1.95),(-.3,-1.75),(-.3,-2.1),(-.25,-2.4),(-1.2,-1.7),(-1.25,-2),(-1.2,-2.25),(-1.1,-2.45),(-1.05,-2.55),(-.95,-2.65),(-.8,-2.55),(-.65,-2.55),(-.45,-2.65),(-.3,-2.75),(-.15,-2.55),(-.05,-2.2),(0,-1.6),(-1.3,-1.45),(-1.25,-2.55),(-1.2,-3),(-1.05,-3.1),(-.8,-3.2),(-.6,-3.2),(-.4,-3.2),(-.2,-3.2),(-.1,-3.1),(-1.25,-3.4),(-1.1,-3.5),(-.95,-3.6),(-.8,-3.7),(-.6,-3.6),(-.4,-3.6),(-.25,-3.7),(-1.2,-3.7),(-1,-3.3),(-.85,-3.4),(-.3,-3.3),(-.15,-3.5),(-.85,-2.9),(-.5,-2.9),(-.3,-2.95),(-1.2,-2.75),(-1.1,-4.3),(-.95,-4.25),(-.75,-4.3),(-.55,-4.25),(-.3,-4.3),(-.8,-4.5),(-1.05,-.92),(-.88,-.9),(-.7,-.93),(-.55,-.88),(-.4,-.91),(-1,-1.12),(-.85,-1.08),(-.7,-1.13),(-.6,-1.09),(-.42,-1.12),(-.32,-1.08),(-1.05,-1.25),(-.92,-1.27),(-.78,-1.23),(-.65,-1.26),(-.52,-1.24),(-.38,-1.27),(-1,-1.4),(-.88,-1.38),(-.72,-1.42),(-.58,-1.39),(-.45,-1.41),(-.32,-1.38),(-1.05,-1.55),(-.93,-1.57),(-.8,-1.53),(-.68,-1.56),(-.55,-1.54),(-.4,-1.57),(-1,-1.7),(-.85,-1.72),(-.72,-1.68),(-.6,-1.71),(-.47,-1.69),(-.35,-1.72),(-1.05,-1.85),(-.92,-1.83),(-.78,-1.87),(-.65,-1.84),(-.52,-1.86),(-.4,-1.83),(-.98,-2),(-.85,-2.02),(-.7,-1.98),(-.58,-2.01),(-.45,-1.99),(-1.02,-2.15),(-.9,-2.13),(-.75,-2.17),(-.62,-2.14),(-.5,-2.16),(-.38,-2.13),(-.95,-2.3),(-.8,-2.28),(-.68,-2.32),(-.55,-2.29),(-.42,-2.31)]

# solid masses where the squares overlap completely: log x, log top, log bottom
CORE_42 = [(-1.87,-1.64,-1.82),(-1.6,-1.28,-1.73),(-1.32,-1.01,-1.59),(-1.05,-.88,-1.19)]
CORE_95 = [(-1.81,-1.95,-2.4),(-1.58,-1.4,-2.95),(-1.35,-1.22,-2.3),(-1.17,-.85,-1.37),(-.94,-.55,-.83)]
CORE_145 = [(-1.37,-1.03,-1.48),(-1.18,-.67,-1.66),(-1,-.53,-1.92),(-.82,-.4,-2.05),(-.63,-.27,-2.05),(-.45,.05,-2.25),(-.26,.23,-2.8),(-.13,.36,-3.8),(.01,.45,-2.9),(.2,.63,-2.35),(.38,.81,-2.05),(.52,.81,-1.9),(.61,.6,-1.5)]
CORE_211 = [(-1.23,-.85,-1.29),(-.95,-.58,-1.47),(-.68,-.27,-1.56),(-.4,-.04,-1.47),(-.13,.23,-1.29),(.1,.18,-.85)]
CORE_299 = [(-2.5,-3.93,-4.11),(-2.36,-3.71,-4.42),(-2.18,-3.49,-4.65),(-1.99,-3.26,-4.92),(-1.72,-2.99,-5.05),(-1.44,-2.81,-5.05),(-1.17,-2.55,-5.05),(-.94,-2.2,-5.05),(-.71,-1.75,-5.05),(-.43,-1.85,-5.05),(-.25,-2.2,-5.05),(-.02,-2.5,-5.05),(.21,-2.72,-5.05),(.32,-2.9,-5.05)]

POINTS = [P7, P11, P42, P77, P95, P116, P145, P200, P211, P268,
          P299 + [(v, -5.45) for v in ROW_299_A] + [(v, -5.16) for v in ROW_299_B], P310]
CORES = [None, None, CORE_42, None, CORE_95, None, CORE_145, None, CORE_211, None, CORE_299, None]

FONT = "Liberation Sans, Noto Sans CJK JP"
GREEN = "#008000"
BLUE = "#00CCFF"
W, H = 290, 298
LABEL_EXPR = "'1.E' + (datum.value >= 1 ? '+' : '-') + '0' + abs(round(log(datum.value) / LN10))"


def x_enc():
    return alt.X("x:Q", scale=alt.Scale(type="log", domain=[1e-6, 1e2]), title="ADMER推計値 [ μg/m3]",
                 axis=alt.Axis(values=TICKS, labelExpr=LABEL_EXPR, grid=True, tickRound=False, labelFlush=False,
                               labelOverlap=False, labelBound=False, labelPadding=9, titlePadding=6))


def y_enc():
    return alt.Y("y:Q", scale=alt.Scale(type="log", domain=[1e-6, 1e2]), title="本手法での推計値 [ μg/m3]",
                 axis=alt.Axis(values=TICKS, labelExpr=LABEL_EXPR, grid=True, tickRound=False, labelFlush=False,
                               labelOverlap=False, labelPadding=8, titlePadding=2.5))


def label(px, py, text, align="left", size=12):
    return alt.Chart(alt.Data(values=[{"a": 1}])).mark_text(
        align=align, baseline="middle", font=FONT, fontSize=size, color="#000"
    ).encode(x=alt.value(px), y=alt.value(py), text=alt.value(text))


def panel(i):
    diag = pd.DataFrame({"x": DIAGONAL, "y": DIAGONAL})
    layers = [alt.Chart(diag).mark_line(color=BLUE, strokeWidth=2.6, clip=True).encode(x=x_enc(), y=y_enc())]
    if CORES[i]:
        core = pd.DataFrame({"x": [10 ** a for a, b, c in CORES[i]],
                             "y": [10 ** b for a, b, c in CORES[i]],
                             "y2": [10 ** c for a, b, c in CORES[i]]})
        layers.append(alt.Chart(core).mark_area(color=GREEN, opacity=1).encode(
            x=x_enc(), y=y_enc(), y2="y2:Q"))
    pts = pd.DataFrame({"x": [10 ** a for a, b in POINTS[i]], "y": [10 ** b for a, b in POINTS[i]]})
    layers.append(alt.Chart(pts).mark_point(shape="square", size=42, filled=False, color=GREEN, strokeWidth=1.2, opacity=0.95).encode(
        x=x_enc(), y=y_enc()))
    top = -25.5 if i < 3 else -28
    layers += [label(30.5, top, "PRTR番号"),
               label(110, top, NUMBERS[i], "center", 11),
               label(129.5, top, NAMES[i], size=11),
               label(36.5, -13, "PRTRでの届出割合"),
               label(157, -13, "[%]", size=11),
               label(211, -13, PERCENTS[i], size=10)]
    return alt.layer(*layers).properties(width=W, height=H)


rows = [alt.hconcat(*[panel(3 * r + c) for c in range(3)], spacing=99, bounds="flush") for r in range(4)]
chart = alt.vconcat(
    alt.vconcat(rows[0], rows[1], spacing=24.4),
    alt.vconcat(rows[2], rows[3], spacing=23.4),
    spacing=58.2,
).properties(padding={"left": 2.4, "top": 0, "right": 0, "bottom": 0}).configure_view(stroke=None).configure_axis(
    labelFont="Liberation Sans", labelFontSize=9.3, labelColor="#000",
    titleFont=FONT, titleFontSize=10.4, titleFontWeight="normal", titleColor="#000",
    gridColor="#000", gridOpacity=1, gridWidth=1, domain=False, ticks=False,
)
chart.save("out.html", embed_options={"renderer": "svg", "actions": False})
